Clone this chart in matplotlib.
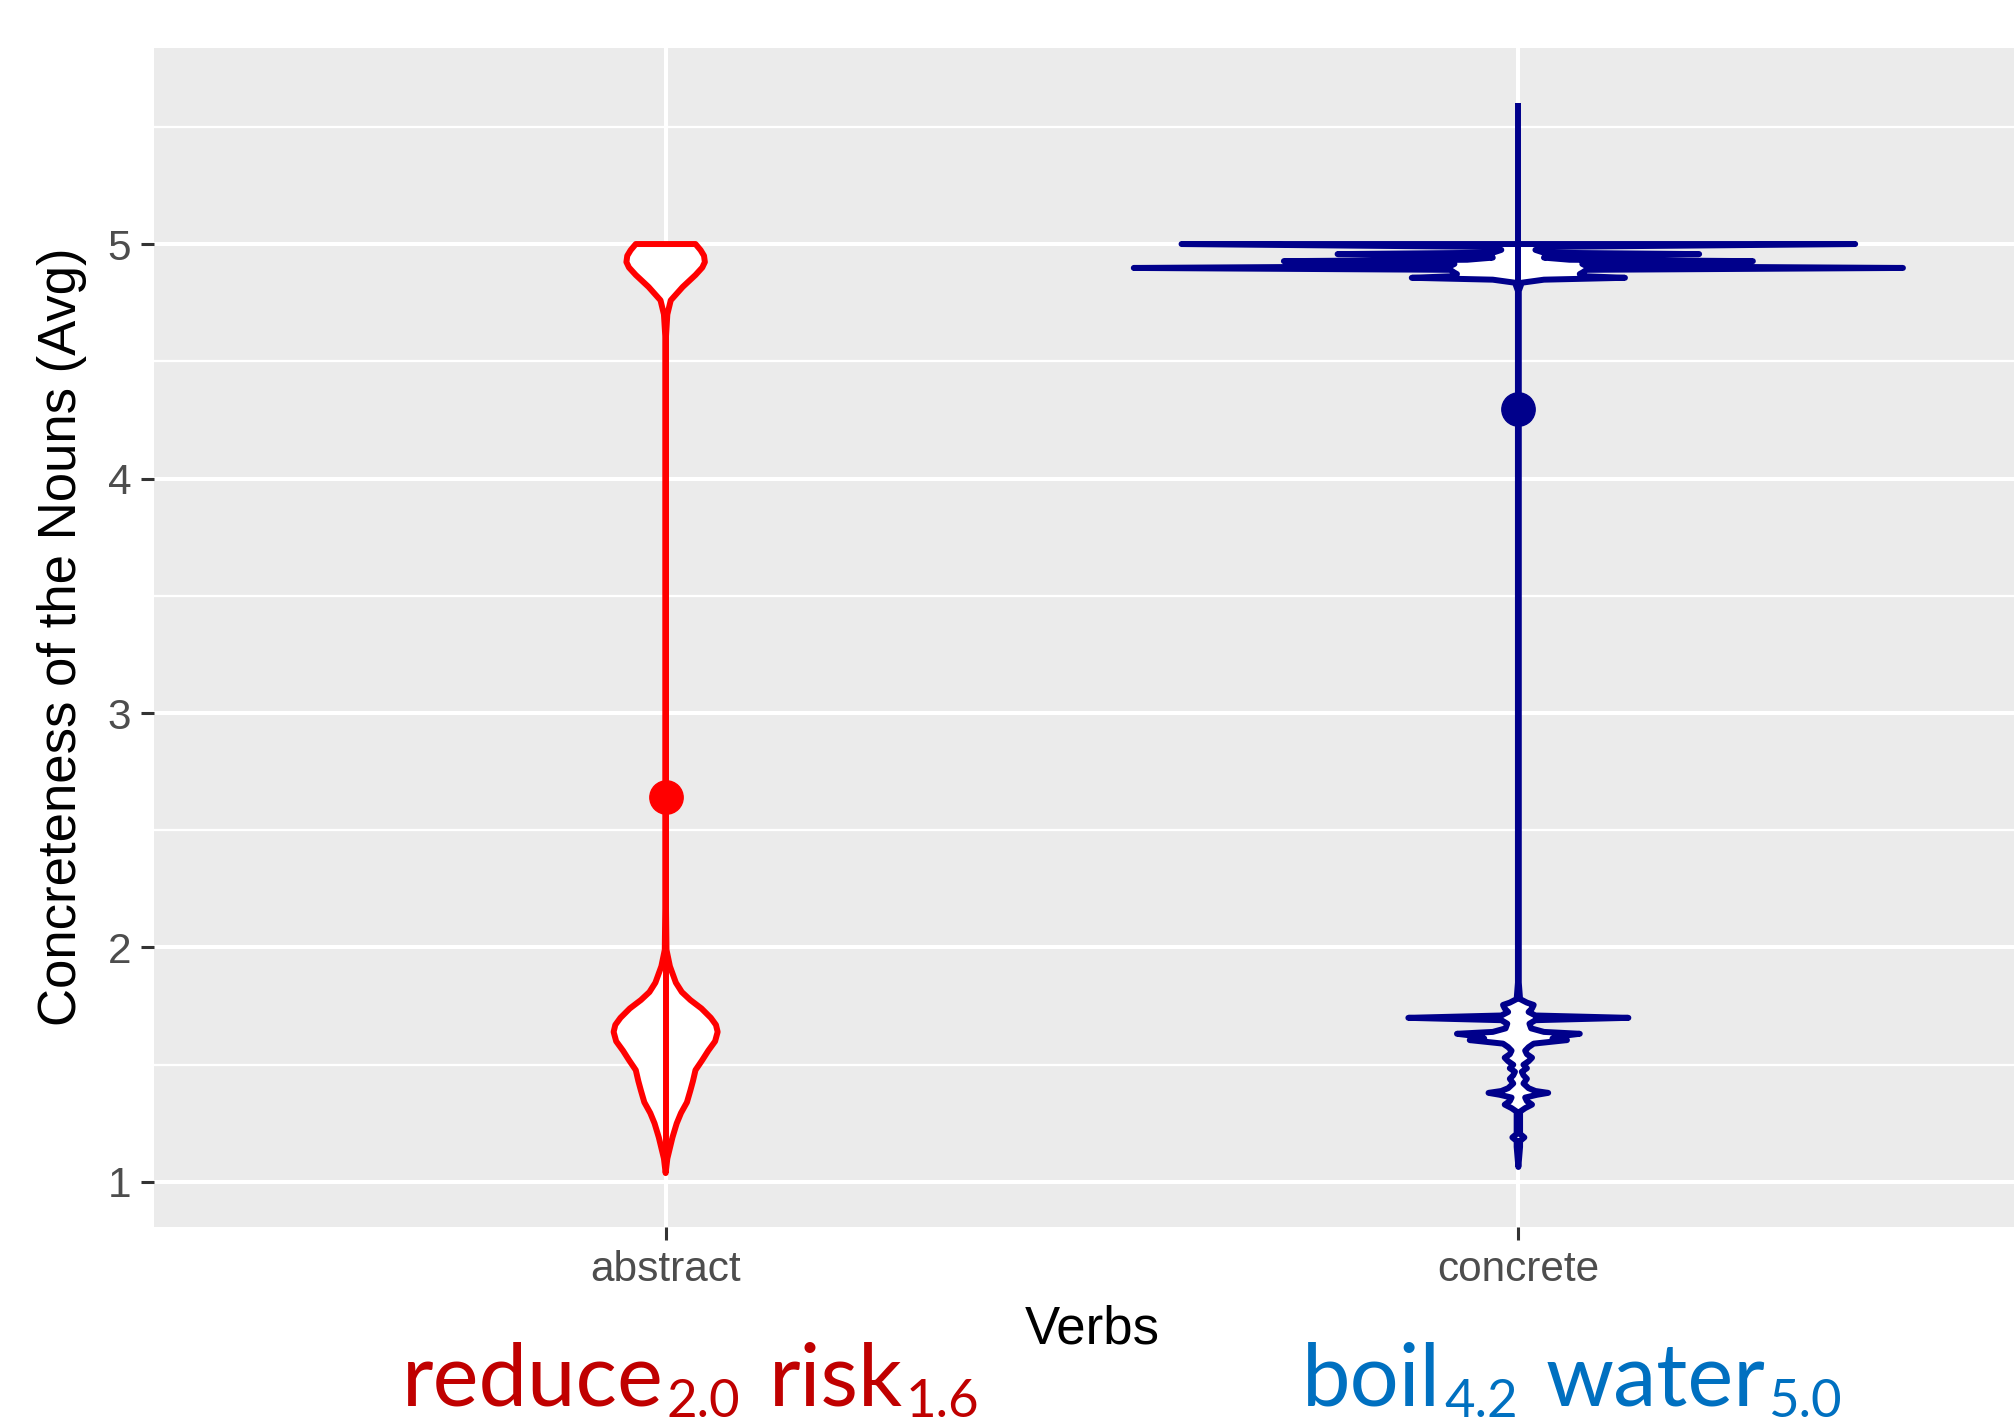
import matplotlib
matplotlib.use('Agg')
import matplotlib.pyplot as plt
from matplotlib.ticker import FixedLocator
import numpy as np

# ---------------- data ----------------
categories = ['abstract', 'concrete']
means = [2.643, 4.298]
range_lo = [1.04, 3.0]
range_hi = [4.25, 5.6]
colors = ['#FF0000', '#00008B']

# violin half-widths (x data units) along y
abs_y = [1.038, 1.10, 1.19, 1.25, 1.294, 1.34, 1.39, 1.43, 1.477, 1.52, 1.56, 1.60,
         1.64, 1.67, 1.70, 1.74, 1.776, 1.81, 1.85, 1.92, 1.99, 2.2, 4.6, 4.70,
         4.76, 4.817, 4.868, 4.90, 4.923, 4.95, 4.974, 5.0]
abs_w = [0.0, 0.002, 0.008, 0.013, 0.018, 0.025, 0.029, 0.032, 0.035, 0.043, 0.050, 0.058,
         0.061, 0.059, 0.053, 0.042, 0.029, 0.019, 0.012, 0.005, 0.001, 0.0003, 0.0003, 0.002,
         0.006, 0.020, 0.035, 0.043, 0.046, 0.045, 0.041, 0.035]

conc_y = [1.064, 1.15, 1.175, 1.19, 1.205, 1.30, 1.315, 1.33, 1.345, 1.36, 1.372, 1.38,
          1.388, 1.40, 1.42, 1.44, 1.455, 1.47, 1.485, 1.50, 1.515, 1.53, 1.545, 1.56,
          1.575, 1.59, 1.605, 1.612, 1.62, 1.632, 1.64, 1.655, 1.675, 1.69, 1.70, 1.71,
          1.725, 1.74, 1.755, 1.765, 1.78, 1.85, 4.80, 4.835, 4.848, 4.856, 4.863, 4.872,
          4.878, 4.890, 4.898, 4.906, 4.915, 4.922, 4.927, 4.933, 4.942, 4.950, 4.957,
          4.963, 4.975, 4.988, 5.0]
conc_w = [0.0, 0.002, 0.002, 0.007, 0.002, 0.002, 0.008, 0.016, 0.010, 0.008, 0.022, 0.035,
          0.020, 0.012, 0.006, 0.010, 0.006, 0.004, 0.010, 0.006, 0.012, 0.016, 0.010, 0.008,
          0.012, 0.018, 0.057, 0.040, 0.045, 0.072, 0.030, 0.015, 0.013, 0.020, 0.129, 0.020,
          0.012, 0.016, 0.018, 0.010, 0.002, 0.0005, 0.0005, 0.004, 0.030, 0.125, 0.075, 0.072,
          0.075, 0.080, 0.451, 0.080, 0.075, 0.080, 0.275, 0.060, 0.030, 0.040, 0.212,
          0.030, 0.020, 0.040, 0.395]

yticks = [1, 2, 3, 4, 5]
yminor = [1.5, 2.5, 3.5, 4.5, 5.5]
ylabel = 'Concreteness of the Nouns (Avg)'
xlabel = 'Verbs'
# example phrases: (word, subscript value)
ann_red = [('reduce', '2.0'), ('risk', '1.6')]
ann_blue = [('boil', '4.2'), ('water', '5.0')]

# ---------------- style ----------------
plt.rcParams['font.family'] = ['Liberation Sans', 'DejaVu Sans']

W, H = 2015, 1422
fig = plt.figure(figsize=(W / 100, H / 100), dpi=100)
ax = fig.add_axes([154 / W, 1 - 1227 / H, 1876 / W, (1227 - 48) / H])
ax.set_facecolor('#EBEBEB')
for s in ax.spines.values():
    s.set_visible(False)
ax.set_xlim(0.4, 2.6)
ax.set_ylim(0.808, 5.836)

ax.set_xticks([1, 2])
ax.set_xticklabels(categories)
ax.set_yticks(yticks)
ax.yaxis.set_minor_locator(FixedLocator(yminor))
ax.set_axisbelow(True)
ax.grid(which='major', color='white', lw=2.9)
ax.grid(which='minor', axis='y', color='white', lw=1.6)
ax.tick_params(axis='both', which='major', length=9.4, width=2.2, color='#333333',
               labelcolor='#4D4D4D', labelsize=30.5, pad=7)
ax.tick_params(axis='both', which='minor', length=0)

for i, (ys, ws) in enumerate([(abs_y, abs_w), (conc_y, conc_w)]):
    ys = np.asarray(ys)
    ws = np.asarray(ws)
    x0 = i + 1
    px = np.concatenate([x0 + ws, (x0 - ws)[::-1]])
    py = np.concatenate([ys, ys[::-1]])
    ax.fill(px, py, facecolor='white', edgecolor=colors[i], lw=4.3,
            joinstyle='round', zorder=2)
    ax.plot([x0, x0], [range_lo[i], range_hi[i]], color=colors[i], lw=4.3,
            solid_capstyle='butt', zorder=3)
    ax.plot([x0], [means[i]], 'o', ms=24, color=colors[i], zorder=4)

fig.text(62 / W, 1 - 637 / H, ylabel, rotation=90, ha='center', va='center',
         fontsize=38, color='black')
fig.text(1092 / W, 1 - 1329 / H, xlabel, ha='center', va='center',
         fontsize=38, color='black')

renderer = fig.canvas.get_renderer()


def phrase(x_px, base_px, pieces, color, size=62.5, sub_size=38, sub_drop=12,
           sub_gap=3, word_gap=28):
    x = x_px
    for word, sub in pieces:
        t = fig.text(x / W, 1 - base_px / H, word, ha='left', va='baseline',
                     fontsize=size, color=color, family=['Lato', 'DejaVu Sans'])
        bb = t.get_window_extent(renderer)
        x = bb.x1 + sub_gap
        t2 = fig.text(x / W, 1 - (base_px + sub_drop) / H, sub, ha='left', va='baseline',
                      fontsize=sub_size, color=color, family=['Lato', 'DejaVu Sans'])
        bb2 = t2.get_window_extent(renderer)
        x = bb2.x1 + word_gap


phrase(402, 1405, ann_red, '#C00000')
phrase(1302, 1405, ann_blue, '#0070C0')

fig.savefig('out.png', dpi=100)
